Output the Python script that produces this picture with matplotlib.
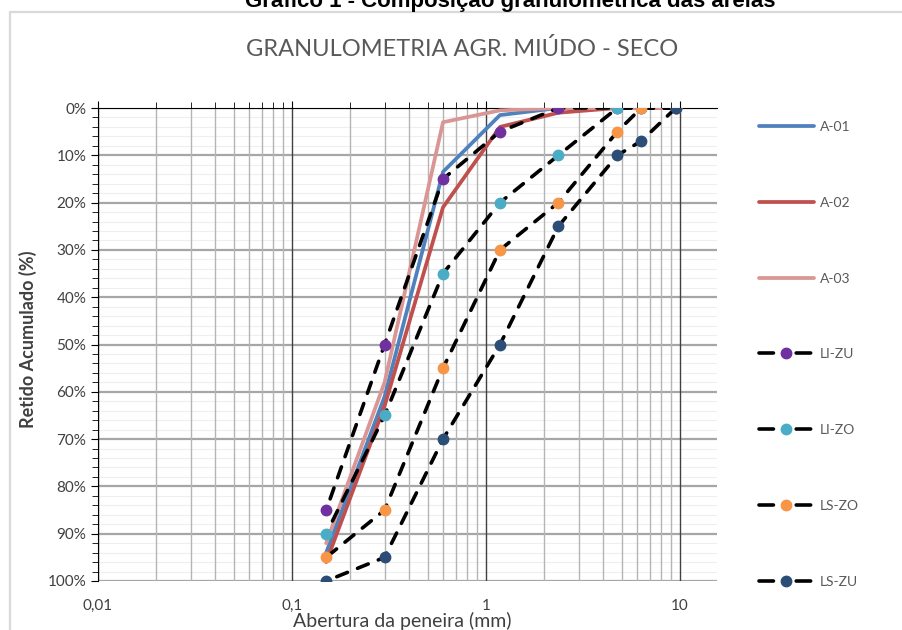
import matplotlib.pyplot as plt
import matplotlib.ticker as mticker
from matplotlib.patches import Rectangle
import numpy as np

# abertura das peneiras (mm)
peneiras = [9.5, 6.3, 4.75, 2.36, 1.18, 0.6, 0.3, 0.15]

# retido acumulado (%) das amostras
a01 = [0, 0, 0, 0, 1.5, 13.5, 61, 94]
a02 = [0, 0, 0, 1, 4, 21, 63, 96]
a03 = [0, 0, 0, 0, 0.5, 3, 58, 92]

# limites da NBR 7211
li_zu = [0, 0, 0, 0, 5, 15, 50, 85]
li_zo = [0, 0, 0, 10, 20, 35, 65, 90]
ls_zo = [0, 0, 5, 20, 30, 55, 85, 95]
ls_zu = [0, 7, 10, 25, 50, 70, 95, 100]

amostras = [("A-01", a01, "#4f81bd"), ("A-02", a02, "#c0504d"), ("A-03", a03, "#d99694")]
limites = [("LI-ZU", li_zu, "#7030a0"), ("LI-ZO", li_zo, "#4bacc6"),
           ("LS-ZO", ls_zo, "#f79646"), ("LS-ZU", ls_zu, "#2c4d75")]

fig = plt.figure(figsize=(9.02, 6.3), dpi=100)
ax = fig.add_axes([98/902, 1-581/630, (717-98)/902, (581-108)/630])

# moldura do grafico
fig.patches.append(Rectangle((10/902, -0.1), 1.0, 1-12/630+0.1, transform=fig.transFigure,
                             fill=False, edgecolor="#d9d9d9", lw=1.6))

fig.text(510/902, 1-7/630, "Gráfico 1 - Composição granulométrica das areias",
         ha="center", va="baseline", family="Liberation Sans", weight="bold", fontsize=16)

fig.text(462/902, 1-56/630, "GRANULOMETRIA AGR. MIÚDO - SECO", ha="center", va="baseline",
         family="Lato", fontsize=17, color="#595959")

for nome, val, cor in amostras:
    ax.plot(peneiras, val, color=cor, lw=2.7, label=nome, solid_capstyle="round", zorder=3)

for nome, val, cor in limites:
    ax.plot(peneiras, val, color="black", lw=2.6, dashes=(3.2, 3.0), dash_capstyle="round",
            marker="o", ms=7.5, mfc=cor, mec=cor, label=nome, zorder=4)

ax.set_xscale("log")
ax.set_xlim(0.01, 15.5)
ax.set_ylim(100, 0)

ax.xaxis.set_major_locator(mticker.FixedLocator([0.01, 0.1, 1, 10]))
ax.xaxis.set_major_formatter(mticker.FixedFormatter(["0,01", "0,1", "1", "10"]))
ax.xaxis.set_minor_locator(mticker.LogLocator(base=10, subs=np.arange(2, 10)))
ax.xaxis.set_minor_formatter(mticker.NullFormatter())
ax.yaxis.set_major_locator(mticker.MultipleLocator(10))
ax.yaxis.set_minor_locator(mticker.MultipleLocator(2))
ax.yaxis.set_major_formatter(mticker.FuncFormatter(lambda v, p: f"{v:.0f}%"))

ax.grid(True, axis="x", which="major", color="#404040", lw=1.0)
ax.grid(True, axis="x", which="minor", color="#b5b5b5", lw=1.0)
ax.grid(True, axis="y", which="major", color="#a6a6a6", lw=1.6)
ax.grid(True, axis="y", which="minor", color="#eeeeee", lw=0.8)
ax.set_axisbelow(True)
ax.yaxis.set_zorder(0.4)

for s in ["right", "bottom"]:
    ax.spines[s].set_visible(False)
ax.spines["top"].set_color("black")
ax.spines["left"].set_color("black")

ax.tick_params(axis="x", which="both", bottom=False, top=True, labelbottom=True,
               labeltop=False, direction="out", color="black", pad=8)
ax.tick_params(axis="x", which="major", length=5)
ax.tick_params(axis="x", which="minor", length=4)
ax.tick_params(axis="y", which="major", length=5, color="black")
ax.tick_params(axis="y", which="minor", length=4, color="black")
for lbl in ax.get_xticklabels() + ax.get_yticklabels():
    lbl.set_family("Lato")
    lbl.set_fontsize(11)
    lbl.set_color("#404040")

ax.set_ylabel("Retido Acumulado (%)", family="Lato", weight="bold", fontsize=13,
              color="#404040")
ax.yaxis.label.set_va("center")
ax.yaxis.set_label_coords(-0.113, 0.512)
ax.set_xlabel("Abertura da peneira (mm)", family="Lato", fontsize=14, color="#404040")
ax.xaxis.label.set_va("baseline")
ax.xaxis.set_label_coords(0.491, -0.0973)

leg = ax.legend(loc="upper left", bbox_to_anchor=(1.055, 0.99), frameon=False,
                prop={"family": "Lato", "size": 10}, labelspacing=4.59,
                handlelength=3.9, handletextpad=0.43, borderaxespad=0.2, numpoints=1)
for t in leg.get_texts():
    t.set_color("#595959")
# um traço de cada lado do marcador na legenda
for ln in leg.get_lines()[3:]:
    ln.set_dashes((4.0, 6.3))

fig.savefig("out.png", dpi=100)
